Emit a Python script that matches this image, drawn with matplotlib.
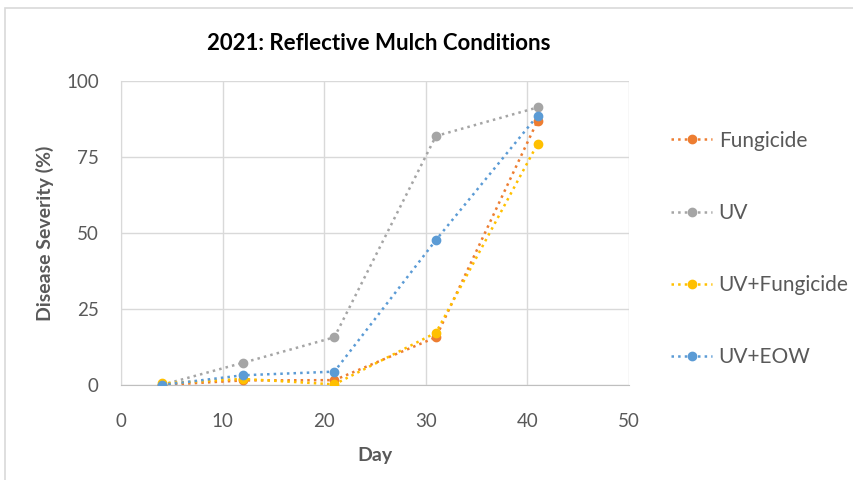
import matplotlib.pyplot as plt
from matplotlib.patches import Rectangle

days = [4, 12, 21, 31, 41]
fungicide = [0.0, 1.5, 1.6, 15.7, 86.9]
uv = [0.0, 7.3, 15.7, 81.9, 91.3]
uv_fungicide = [0.5, 2.0, 0.2, 17.2, 79.3]
uv_eow = [0.0, 3.2, 4.4, 47.7, 88.6]

series = [
    ('Fungicide', fungicide, '#ED7D31'),
    ('UV', uv, '#A5A5A5'),
    ('UV+Fungicide', uv_fungicide, '#FFC000'),
    ('UV+EOW', uv_eow, '#5B9BD5'),
]

plt.rcParams['font.family'] = ['Lato', 'DejaVu Sans']
txt = '#595959'

fig = plt.figure(figsize=(8.54, 4.8), dpi=100)
# chart frame border
fig.patches.append(Rectangle((5 / 854, -0.01), 1.0, 1 - 8 / 480 + 0.01,
                             transform=fig.transFigure, fill=False,
                             edgecolor='#D9D9D9', linewidth=1.2))

ax = fig.add_axes([121 / 854, 1 - 385 / 480, (629 - 121) / 854, (385 - 81) / 480])

for name, vals, col in series:
    ax.plot(days, vals, linestyle=':', color=col, linewidth=1.8,
            marker='o', markersize=6, label=name, zorder=3)

ax.set_xlim(0, 50)
ax.set_ylim(0, 100)
ax.set_xticks(range(0, 51, 10))
ax.set_yticks(range(0, 101, 25))
ax.grid(True, color='#D9D9D9', linewidth=1.0)
ax.set_axisbelow(True)
for s in ['top', 'right']:
    ax.spines[s].set_visible(False)
ax.spines['left'].set_color('#D9D9D9')
ax.spines['bottom'].set_color('#BFBFBF')
ax.tick_params(length=0, labelsize=13.5, labelcolor=txt)
ax.tick_params(axis='x', pad=20)
ax.tick_params(axis='y', pad=16)

ax.set_xlabel('Day', fontsize=14, fontweight='bold', color=txt)
ax.set_ylabel('Disease Severity (%)', fontsize=14, fontweight='bold', color=txt)
ax.xaxis.set_label_coords(0.5, (385 - 447) / 304)
ax.yaxis.set_label_coords((54 - 121) / 508, 0.5)
fig.text(379 / 854, 1 - 43 / 480, '2021: Reflective Mulch Conditions',
         ha='center', va='center', fontsize=16, fontweight='bold', color='black')

leg = ax.legend(loc='upper left', bbox_to_anchor=(652 / 854, 1 - 112 / 480),
                bbox_transform=fig.transFigure, frameon=False, fontsize=15,
                labelspacing=2.5, handlelength=2.0, handletextpad=0.3)
for t in leg.get_texts():
    t.set_color(txt)

fig.savefig('out.png', dpi=100)
